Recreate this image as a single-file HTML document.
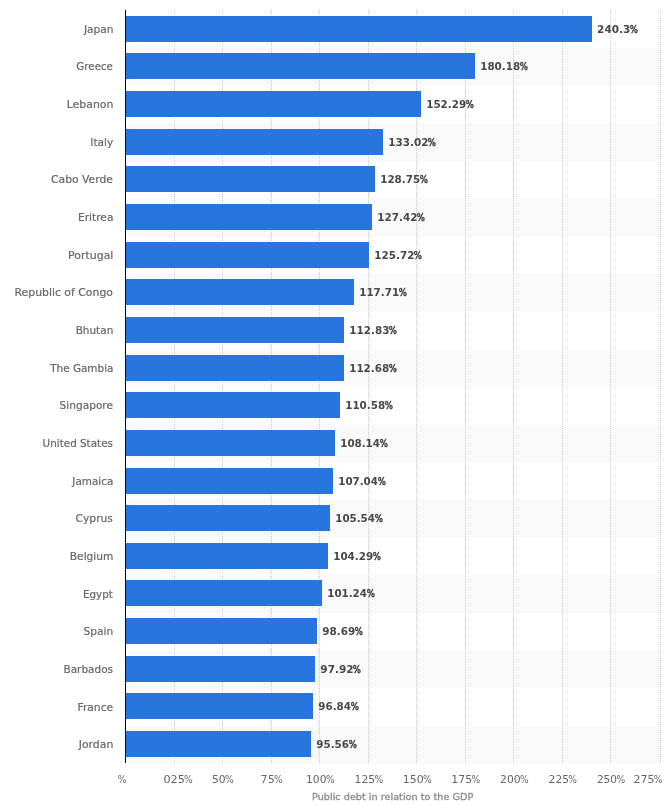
<!DOCTYPE html>
<html lang="en"><head><meta charset="utf-8"><title>Public debt in relation to the GDP</title>
<style>
html,body{margin:0;padding:0;background:#fff;}
body{width:672px;height:805px;overflow:hidden;}
svg{display:block;font-family:"DejaVu Sans", "Liberation Sans", sans-serif;}
.cat{font-size:11px;fill:#666666;stroke:#666666;stroke-width:0.2px;}
.val{font-size:11px;fill:#484848;font-weight:bold;}
.val tspan{font-weight:normal;stroke:#484848;stroke-width:0.6px;}
.tick{font-size:11px;fill:#666666;}
.title{font-size:9px;fill:#8c8c8c;stroke:#8c8c8c;stroke-width:0.3px;}
</style></head><body>
<svg width="672" height="805" viewBox="0 0 672 805">
<rect x="0" y="0" width="672" height="805" fill="#ffffff"/>
<g fill="#fafafa">
<rect x="126" y="48.15" width="535" height="37.65"/>
<rect x="126" y="123.45" width="535" height="37.65"/>
<rect x="126" y="198.75" width="535" height="37.65"/>
<rect x="126" y="274.05" width="535" height="37.65"/>
<rect x="126" y="349.35" width="535" height="37.65"/>
<rect x="126" y="424.65" width="535" height="37.65"/>
<rect x="126" y="499.95" width="535" height="37.65"/>
<rect x="126" y="575.25" width="535" height="37.65"/>
<rect x="126" y="650.55" width="535" height="37.65"/>
<rect x="126" y="725.85" width="535" height="37.65"/>
</g>
<g stroke="#cbcbcb" stroke-width="1" stroke-dasharray="1,1" fill="none" shape-rendering="crispEdges">
<path d="M174.5 10V763"/>
<path d="M222.5 10V763"/>
<path d="M271.5 10V763"/>
<path d="M319.5 10V763"/>
<path d="M368.5 10V763"/>
<path d="M416.5 10V763"/>
<path d="M465.5 10V763"/>
<path d="M513.5 10V763"/>
<path d="M562.5 10V763"/>
<path d="M610.5 10V763"/>
<path d="M660.5 10V763"/>
</g>
<g fill="#2876dd" shape-rendering="crispEdges">
<rect x="126" y="16" width="466" height="26"/>
<rect x="126" y="53" width="349" height="26"/>
<rect x="126" y="91" width="295" height="26"/>
<rect x="126" y="129" width="257" height="26"/>
<rect x="126" y="166" width="249" height="26"/>
<rect x="126" y="204" width="246" height="26"/>
<rect x="126" y="242" width="243" height="26"/>
<rect x="126" y="279" width="228" height="26"/>
<rect x="126" y="317" width="218" height="26"/>
<rect x="126" y="355" width="218" height="26"/>
<rect x="126" y="392" width="214" height="26"/>
<rect x="126" y="430" width="209" height="26"/>
<rect x="126" y="468" width="207" height="26"/>
<rect x="126" y="505" width="204" height="26"/>
<rect x="126" y="543" width="202" height="26"/>
<rect x="126" y="580" width="196" height="26"/>
<rect x="126" y="618" width="191" height="26"/>
<rect x="126" y="656" width="189" height="26"/>
<rect x="126" y="693" width="187" height="26"/>
<rect x="126" y="731" width="185" height="26"/>
</g>
<path d="M125.5 10V763" stroke="#000" stroke-width="1" shape-rendering="crispEdges"/>
<g>
<text class="cat" transform="translate(83.92 33) scale(0.9639 1)">Japan</text>
<text class="cat" transform="translate(76.33 70) scale(0.9359 1)">Greece</text>
<text class="cat" transform="translate(66.71 108) scale(0.9923 1)">Lebanon</text>
<text class="cat" transform="translate(90.35 146) scale(0.9538 1)">Italy</text>
<text class="cat" transform="translate(51.01 183) scale(0.9815 1)">Cabo Verde</text>
<text class="cat" transform="translate(77.93 221) scale(0.9698 1)">Eritrea</text>
<text class="cat" transform="translate(68.05 259) scale(0.9954 1)">Portugal</text>
<text class="cat" transform="translate(14.51 296) scale(0.9883 1)">Republic of Congo</text>
<text class="cat" transform="translate(75.65 334) scale(0.9536 1)">Bhutan</text>
<text class="cat" transform="translate(50.14 372) scale(0.9500 1)">The Gambia</text>
<text class="cat" transform="translate(59.52 409) scale(0.9651 1)">Singapore</text>
<text class="cat" transform="translate(42.59 447) scale(0.9461 1)">United States</text>
<text class="cat" transform="translate(72.31 485) scale(0.9480 1)">Jamaica</text>
<text class="cat" transform="translate(75.51 522) scale(0.9760 1)">Cyprus</text>
<text class="cat" transform="translate(69.83 560) scale(0.9665 1)">Belgium</text>
<text class="cat" transform="translate(82.96 598) scale(0.9410 1)">Egypt</text>
<text class="cat" transform="translate(83.62 635) scale(0.9661 1)">Spain</text>
<text class="cat" transform="translate(63.45 673) scale(0.9545 1)">Barbados</text>
<text class="cat" transform="translate(77.53 711) scale(0.9743 1)">France</text>
<text class="cat" transform="translate(78.69 748) scale(0.9900 1)">Jordan</text>
</g>
<g>
<text class="val" transform="translate(597.08 33) scale(0.9549 1)">240.3<tspan dx="-0.53" textLength="8.54" lengthAdjust="spacingAndGlyphs">%</tspan></text>
<text class="val" transform="translate(480.22 70) scale(0.9420 1)">180.18<tspan dx="-0.43" textLength="8.66" lengthAdjust="spacingAndGlyphs">%</tspan></text>
<text class="val" transform="translate(426.22 108) scale(0.9420 1)">152.29<tspan dx="-0.43" textLength="8.66" lengthAdjust="spacingAndGlyphs">%</tspan></text>
<text class="val" transform="translate(388.22 146) scale(0.9478 1)">133.02<tspan dx="-0.68" textLength="8.60" lengthAdjust="spacingAndGlyphs">%</tspan></text>
<text class="val" transform="translate(380.22 183) scale(0.9420 1)">128.75<tspan dx="-0.43" textLength="8.66" lengthAdjust="spacingAndGlyphs">%</tspan></text>
<text class="val" transform="translate(377.22 221) scale(0.9478 1)">127.42<tspan dx="-0.68" textLength="8.60" lengthAdjust="spacingAndGlyphs">%</tspan></text>
<text class="val" transform="translate(374.22 259) scale(0.9478 1)">125.72<tspan dx="-0.68" textLength="8.60" lengthAdjust="spacingAndGlyphs">%</tspan></text>
<text class="val" transform="translate(359.22 296) scale(0.9420 1)">117.71<tspan dx="-0.43" textLength="8.66" lengthAdjust="spacingAndGlyphs">%</tspan></text>
<text class="val" transform="translate(349.22 334) scale(0.9478 1)">112.83<tspan dx="-0.68" textLength="8.60" lengthAdjust="spacingAndGlyphs">%</tspan></text>
<text class="val" transform="translate(349.22 372) scale(0.9420 1)">112.68<tspan dx="-0.43" textLength="8.66" lengthAdjust="spacingAndGlyphs">%</tspan></text>
<text class="val" transform="translate(345.22 409) scale(0.9420 1)">110.58<tspan dx="-0.43" textLength="8.66" lengthAdjust="spacingAndGlyphs">%</tspan></text>
<text class="val" transform="translate(340.23 447) scale(0.9362 1)">108.14<tspan dx="-0.18" textLength="8.71" lengthAdjust="spacingAndGlyphs">%</tspan></text>
<text class="val" transform="translate(338.23 485) scale(0.9362 1)">107.04<tspan dx="-0.18" textLength="8.71" lengthAdjust="spacingAndGlyphs">%</tspan></text>
<text class="val" transform="translate(335.23 522) scale(0.9362 1)">105.54<tspan dx="-0.18" textLength="8.71" lengthAdjust="spacingAndGlyphs">%</tspan></text>
<text class="val" transform="translate(333.22 560) scale(0.9420 1)">104.29<tspan dx="-0.43" textLength="8.66" lengthAdjust="spacingAndGlyphs">%</tspan></text>
<text class="val" transform="translate(327.23 597) scale(0.9362 1)">101.24<tspan dx="-0.18" textLength="8.71" lengthAdjust="spacingAndGlyphs">%</tspan></text>
<text class="val" transform="translate(322.33 635) scale(0.9478 1)">98.69<tspan dx="-0.53" textLength="8.60" lengthAdjust="spacingAndGlyphs">%</tspan></text>
<text class="val" transform="translate(320.32 673) scale(0.9549 1)">97.92<tspan dx="-0.78" textLength="8.54" lengthAdjust="spacingAndGlyphs">%</tspan></text>
<text class="val" transform="translate(318.33 710) scale(0.9407 1)">96.84<tspan dx="-0.28" textLength="8.67" lengthAdjust="spacingAndGlyphs">%</tspan></text>
<text class="val" transform="translate(316.33 748) scale(0.9407 1)">95.56<tspan dx="-0.28" textLength="8.67" lengthAdjust="spacingAndGlyphs">%</tspan></text>
</g>
<g>
<text class="tick" transform="translate(117.78 783) scale(0.8324 1)">%</text>
<text class="tick" transform="translate(163.43 783) scale(1.0234 1)">025<tspan dx="-0.82" textLength="8.50" lengthAdjust="spacingAndGlyphs">%</tspan></text>
<text class="tick" transform="translate(211.97 783) scale(0.9760 1)">50<tspan dx="-0.56" textLength="8.92" lengthAdjust="spacingAndGlyphs">%</tspan></text>
<text class="tick" transform="translate(260.58 783) scale(1.0167 1)">75<tspan dx="-0.82" textLength="8.56" lengthAdjust="spacingAndGlyphs">%</tspan></text>
<text class="tick" transform="translate(306.03 783) scale(0.9763 1)">100<tspan dx="-0.56" textLength="8.91" lengthAdjust="spacingAndGlyphs">%</tspan></text>
<text class="tick" transform="translate(354.57 783) scale(0.9867 1)">125<tspan dx="-0.81" textLength="8.82" lengthAdjust="spacingAndGlyphs">%</tspan></text>
<text class="tick" transform="translate(402.86 783) scale(0.9895 1)">150<tspan dx="-0.56" textLength="8.79" lengthAdjust="spacingAndGlyphs">%</tspan></text>
<text class="tick" transform="translate(451.35 783) scale(1.0027 1)">175<tspan dx="-0.82" textLength="8.68" lengthAdjust="spacingAndGlyphs">%</tspan></text>
<text class="tick" transform="translate(500.07 783) scale(0.9795 1)">200<tspan dx="-0.56" textLength="8.88" lengthAdjust="spacingAndGlyphs">%</tspan></text>
<text class="tick" transform="translate(548.57 783) scale(0.9766 1)">225<tspan dx="-0.81" textLength="8.91" lengthAdjust="spacingAndGlyphs">%</tspan></text>
<text class="tick" transform="translate(596.88 783) scale(0.9641 1)">250<tspan dx="-0.56" textLength="9.03" lengthAdjust="spacingAndGlyphs">%</tspan></text>
<text class="tick" transform="translate(633.45 783) scale(1.0052 1)">275<tspan dx="-0.82" textLength="8.66" lengthAdjust="spacingAndGlyphs">%</tspan></text>
</g>
<text class="title" transform="translate(311.99 800) scale(1.0772 1)">Public debt in relation to the GDP</text>
</svg></body></html>
